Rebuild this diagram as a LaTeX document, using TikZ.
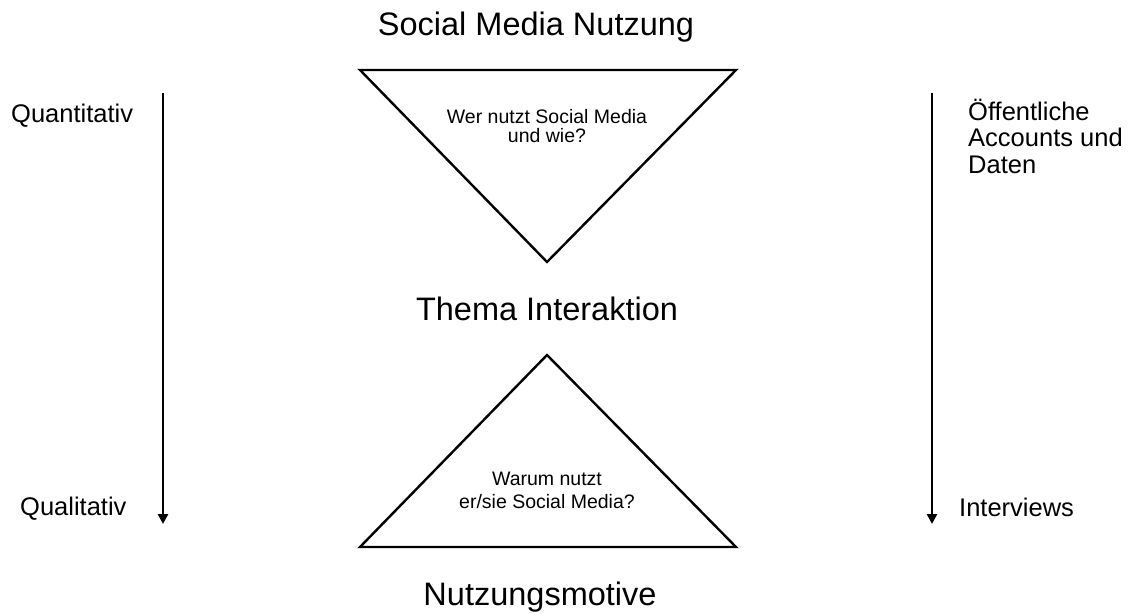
\documentclass[tikz,border=0pt]{standalone}
\usepackage{fontspec}
\setmainfont{Liberation Sans}
\usetikzlibrary{arrows.meta}
\begin{document}
\begin{tikzpicture}[x=1pt,y=-1pt,
  tri/.style={draw=black,line width=2.4pt,line join=miter},
  axis/.style={draw=black,line width=2.6pt,-{Triangle[length=10pt,width=10pt]}},
  big/.style={font=\fontsize{32.5}{36}\selectfont,anchor=base,inner sep=0pt},
  small/.style={font=\fontsize{19.5}{19}\selectfont,align=center,anchor=base,inner sep=0pt},
  side/.style={font=\fontsize{25.5}{26.5}\selectfont,align=left,anchor=base west,inner sep=0pt}]
\useasboundingbox (0,0) rectangle (1132,613);
\draw[tri] (360,70) -- (736,70) -- (547,262) -- cycle;
\draw[tri] (547,355) -- (736,547) -- (360,547) -- cycle;
\node[big] (t1) at (536,35) {Social Media Nutzung};
\node[big] (t2) at (547,320) {Thema Interaktion};
\node[big] (t3) at (540,605) {Nutzungsmotive};
\node[small] (q1) at (547,142) {Wer nutzt Social Media\\und wie?};
\node[small,font=\fontsize{19.5}{23}\selectfont] (q2) at (547,508) {Warum nutzt\\er/sie Social Media?};
\coordinate (la) at (163,93);
\coordinate (lb) at (163,524);
\coordinate (ra) at (932,93);
\coordinate (rb) at (932,524);
\draw[axis] (la) -- (lb);
\draw[axis] (ra) -- (rb);
\node[side] (quan) at (11,122) {Quantitativ};
\node[side] (qual) at (20,515) {Qualitativ};
\node[side] (oef) at (968,173) {Öffentliche\\Accounts und\\Daten};
\node[side] (int) at (959,516) {Interviews};
\end{tikzpicture}
\end{document}
